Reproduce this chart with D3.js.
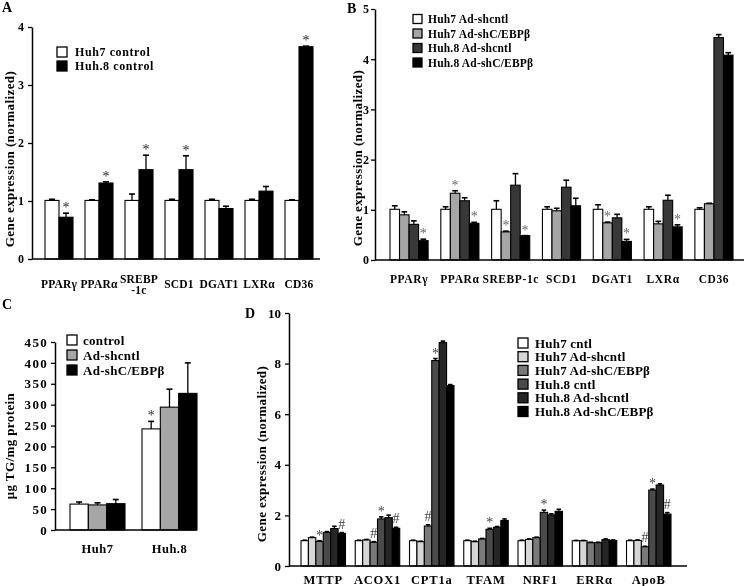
<!DOCTYPE html>
<html><head><meta charset="utf-8">
<script src="https://cdn.jsdelivr.net/npm/d3@7"></script>
<style>
body{margin:0;background:#fff}
svg{display:block;filter:grayscale(100%)}
text{font-family:"Liberation Serif","Times New Roman",serif;font-weight:bold;fill:#000}
</style>
</head><body>
<svg id="fig" width="745" height="586"></svg>
<script>
// ---------- Panel A ----------
const genesA = ["PPARγ","PPARα","SREBP-1c","SCD1","DGAT1","LXRα","CD36"];
const seriesA = ["Huh7 control","Huh.8 control"];
const huh7ControlA = [1.01,1.01,1.01,1.01,1.01,1.01,1.01];
const huh8ControlA = [0.72,1.31,1.54,1.54,0.87,1.17,3.66];
const huh7ControlErrA = [0.02,0.01,0.11,0.02,0.02,0.02,0.01];
const huh8ControlErrA = [0.07,0.02,0.25,0.24,0.04,0.08,0.01];
const marksA = [[1,0,"*"],[1,1,"*"],[1,2,"*"],[1,3,"*"],[1,6,"*"]];
const yTicksA = [0,1,2,3,4];

// ---------- Panel B ----------
const genesB = ["PPARγ","PPARα","SREBP-1c","SCD1","DGAT1","LXRα","CD36"];
const seriesB = ["Huh7 Ad-shcntl","Huh7 Ad-shC/EBPβ","Huh.8 Ad-shcntl","Huh.8 Ad-shC/EBPβ"];
const huh7ShcntlB = [1.01,1.01,1.01,1.01,1.01,1.01,1.01];
const huh7ShCebpB = [0.90,1.33,0.56,0.98,0.74,0.72,1.12];
const huh8ShcntlB = [0.71,1.18,1.49,1.45,0.84,1.19,4.43];
const huh8ShCebpB = [0.385,0.73,0.485,1.08,0.37,0.66,4.08];
const huh7ShcntlErrB = [0.07,0.05,0.17,0.05,0.09,0.05,0.03];
const huh7ShCebpErrB = [0.06,0.05,0.015,0.05,0.015,0.05,0.01];
const huh8ShcntlErrB = [0.07,0.06,0.23,0.14,0.07,0.10,0.06];
const huh8ShCebpErrB = [0.03,0.02,0.0,0.15,0.04,0.04,0.05];
const marksB = [[3,0,"*"],[1,1,"*"],[3,1,"*"],[1,2,"*"],[3,2,"*"],[1,4,"*"],[3,4,"*"],[3,5,"*"]];
const yTicksB = [0,1,2,3,4,5];

// ---------- Panel C ----------
const cellsC = ["Huh7","Huh.8"];
const seriesC = ["control","Ad-shcntl","Ad-shC/EBPβ"];
const controlC = [62,242];
const shcntlC = [60,294];
const shCebpC = [63,327];
const controlErrC = [5,18];
const shcntlErrC = [5,43];
const shCebpErrC = [10,73];
const marksC = [[0,1,"*"]];
const yTicksC = [0,50,100,150,200,250,300,350,400,450];

// ---------- Panel D ----------
const genesD = ["MTTP","ACOX1","CPT1a","TFAM","NRF1","ERRα","ApoB"];
const seriesD = ["Huh7 cntl","Huh7 Ad-shcntl","Huh7 Ad-shC/EBPβ","Huh.8 cntl","Huh.8 Ad-shcntl","Huh.8 Ad-shC/EBPβ"];
const huh7CntlD = [1.0,1.0,1.0,1.0,1.0,1.0,1.0];
const huh7ShcntlD = [1.12,1.03,0.96,0.96,1.05,1.0,1.01];
const huh7ShCebpD = [0.97,0.94,1.58,1.07,1.12,0.92,0.76];
const huh8CntlD = [1.33,1.86,8.12,1.45,2.12,0.92,3.0];
const huh8ShcntlD = [1.48,1.91,8.83,1.53,2.02,1.04,3.2];
const huh8ShCebpD = [1.29,1.49,7.13,1.8,2.16,1.01,2.05];
const huh7CntlErrD = [0.02,0.02,0.02,0.02,0.02,0.01,0.02];
const huh7ShcntlErrD = [0.02,0.02,0.02,0.02,0.02,0.01,0.02];
const huh7ShCebpErrD = [0.03,0.02,0.05,0.02,0.02,0.02,0.02];
const huh8CntlErrD = [0.03,0.08,0.08,0.04,0.09,0.02,0.04];
const huh8ShcntlErrD = [0.09,0.10,0.06,0.03,0.04,0.03,0.05];
const huh8ShCebpErrD = [0.03,0.04,0.04,0.06,0.08,0.02,0.06];
const marksD = [[2,0,"*"],[5,0,"#"],[2,1,"#"],[3,1,"*"],[5,1,"#"],[2,2,"#"],[3,2,"*"],[3,3,"*"],[3,4,"*"],[2,6,"#"],[3,6,"*"],[5,6,"#"]];
const yTicksD = [0,2,4,6,8,10];

const svg = d3.select("#fig");

function panel(o){
  const g = svg.append("g");
  const x = d3.scaleBand().domain(o.cats).range(o.xRange).paddingInner(o.pin).paddingOuter(o.pout);
  const xs = d3.scaleBand().domain(d3.range(o.values.length)).range([0, x.bandwidth()]);
  const y = d3.scaleLinear().domain(o.yDomain).range(o.yRange);
  const bw = xs.bandwidth();
  const capW = Math.min(bw*0.6, 6);
  o.values.forEach((vals, si) => {
    const gs = g.append("g");
    gs.selectAll("rect").data(vals).join("rect")
      .attr("x", (d,i) => x(o.cats[i]) + xs(si))
      .attr("y", d => y(d))
      .attr("width", bw)
      .attr("height", d => y(0) - y(d))
      .attr("fill", o.colors[si])
      .attr("stroke", "#000").attr("stroke-width", 1.1);
    const errs = o.errors[si];
    gs.selectAll("line.e").data(vals).join("line").attr("class","e")
      .attr("x1", (d,i) => x(o.cats[i]) + xs(si) + bw/2)
      .attr("x2", (d,i) => x(o.cats[i]) + xs(si) + bw/2)
      .attr("y1", d => y(d))
      .attr("y2", (d,i) => y(d + errs[i]))
      .attr("stroke", "#000").attr("stroke-width", 1.3);
    gs.selectAll("line.c").data(vals).join("line").attr("class","c")
      .attr("x1", (d,i) => x(o.cats[i]) + xs(si) + bw/2 - capW/2)
      .attr("x2", (d,i) => x(o.cats[i]) + xs(si) + bw/2 + capW/2)
      .attr("y1", (d,i) => y(d + errs[i]))
      .attr("y2", (d,i) => y(d + errs[i]))
      .attr("stroke", "#000").attr("stroke-width", 1.6);
  });
  // significance marks
  g.append("g")
    .selectAll("text.m").data(o.marks).join("text").attr("class","m")
    .attr("x", m => x(o.cats[m[1]]) + xs(m[0]) + bw/2)
    .attr("y", m => y(o.values[m[0]][m[1]] + o.errors[m[0]][m[1]]) - (m[2]==="#" ? 4 : 1))
    .attr("text-anchor","middle")
    .style("font-weight","normal")
    .style("font-size", o.markSize + "px")
    .style("fill", o.markColor)
    .text(m => m[2]);
  // y axis
  const ax = g.append("g").attr("transform", `translate(${o.axisX},0)`)
    .call(d3.axisLeft(y).tickValues(o.ticks).tickSize(4).tickSizeOuter(0).tickPadding(o.tickPad || 4).tickFormat(d3.format("d")));
  ax.select(".domain").attr("stroke-width", 1.5);
  ax.selectAll(".tick line").attr("stroke-width", 1.3);
  ax.selectAll("text").attr("font-family", null).attr("font-size", null)
    .style("font-size", o.tickSize + "px").style("letter-spacing", (o.tickLS||0) + "px");
  // x axis line
  g.append("line").attr("x1", o.axisX).attr("x2", o.xEnd).attr("y1", y(0)).attr("y2", y(0))
    .attr("stroke","#000").attr("stroke-width", 1.5);
  // category labels
  o.cats.forEach((c,i) => {
    const lines = (o.wrap && o.wrap[c]) ? o.wrap[c] : [c];
    const t = g.append("text").attr("text-anchor","middle")
      .attr("x", x(c) + x.bandwidth()/2 + (o.labelDx||0))
      .style("font-size", o.labelSize + "px")
      .style("letter-spacing", (o.labelLS||0) + "px");
    if (lines.length === 1) {
      t.attr("y", o.labelY).text(c);
    } else {
      lines.forEach((l,k) => t.append("tspan").attr("x", x(c) + x.bandwidth()/2 + (o.labelDx||0))
        .attr("y", o.labelY - 5 + k*11).text(l));
    }
  });
  // y title
  g.append("text").attr("text-anchor","middle")
    .attr("transform", `translate(${o.titleX},${o.titleY}) rotate(-90)`)
    .style("font-size", o.titleSize + "px").style("letter-spacing", (o.titleLS||0) + "px").text(o.title);
  // panel letter
  g.append("text").attr("x", o.letterX).attr("y", o.letterY).style("font-size","14px").text(o.letter);
  // legend
  const lg = g.append("g");
  o.series.forEach((s,i) => {
    const cy = o.legY + i*o.legDy;
    lg.append("rect").attr("x", o.legX).attr("y", cy - o.legBox/2).attr("width", o.legBox).attr("height", o.legBox)
      .attr("fill", o.colors[i]).attr("stroke","#000").attr("stroke-width",1.3);
    lg.append("text").attr("x", o.legTextX).attr("y", cy + o.legFont*0.35)
      .style("font-size", o.legFont + "px").style("letter-spacing", (o.legLS||0) + "px").text(s);
  });
}

panel({
  cats: genesA, series: seriesA, values: [huh7ControlA, huh8ControlA], errors: [huh7ControlErrA, huh8ControlErrA],
  marks: marksA, colors: ["#ffffff","#000000"],
  xRange: [39,319], pin: 0.3, pout: 0.15, yDomain: [0,4], yRange: [259,27], ticks: yTicksA,
  axisX: 32, xEnd: 320, tickSize: 12, labelSize: 11.5, labelLS: 0.2, labelY: 288,
  wrap: {"SREBP-1c": ["SREBP","-1c"]},
  title: "Gene expression (normalized)", titleX: 14, titleY: 159, titleSize: 13, titleLS: 0.4,
  letter: "A", letterX: 2, letterY: 12,
  legX: 57, legY: 52, legDy: 14, legBox: 10, legTextX: 75, legFont: 12, legLS: 0.6,
  markSize: 14, markColor: "#222"
});

panel({
  cats: genesB, series: seriesB, values: [huh7ShcntlB, huh7ShCebpB, huh8ShcntlB, huh8ShCebpB],
  errors: [huh7ShcntlErrB, huh7ShCebpErrB, huh8ShcntlErrB, huh8ShCebpErrB],
  marks: marksB, colors: ["#ffffff","#a6a6a6","#383838","#000000"],
  xRange: [384,739], pin: 0.25, pout: 0.118, yDomain: [0,5], yRange: [260,9], ticks: yTicksB,
  axisX: 375, xEnd: 744, tickSize: 12, tickPad: 2, labelSize: 11.5, labelLS: 0.6, labelY: 283,
  title: "Gene expression (normalized)", titleX: 362, titleY: 158, titleSize: 13, titleLS: 0.4,
  letter: "B", letterX: 347, letterY: 13,
  legX: 413, legY: 19, legDy: 14.5, legBox: 9, legTextX: 428, legFont: 11.5, legLS: 0.2,
  markSize: 14, markColor: "#666"
});

panel({
  cats: cellsC, series: seriesC, values: [controlC, shcntlC, shCebpC], errors: [controlErrC, shcntlErrC, shCebpErrC],
  marks: marksC, colors: ["#ffffff","#a6a6a6","#000000"],
  xRange: [70,197], pin: 0.236, pout: 0, yDomain: [0,450], yRange: [530,342], ticks: yTicksC,
  axisX: 55, xEnd: 197, tickSize: 13, tickLS: 1.3, tickPad: 3, labelSize: 12.5, labelLS: 0.5, labelY: 553,
  title: "μg TG/mg protein", titleX: 14, titleY: 446, titleSize: 13, titleLS: 0.4,
  letter: "C", letterX: 2, letterY: 309,
  legX: 67, legY: 340, legDy: 15, legBox: 10, legTextX: 83, legFont: 13, legLS: 0.3,
  markSize: 14, markColor: "#333"
});

panel({
  cats: genesD, series: seriesD, values: [huh7CntlD, huh7ShcntlD, huh7ShCebpD, huh8CntlD, huh8ShcntlD, huh8ShCebpD],
  errors: [huh7CntlErrD, huh7ShcntlErrD, huh7ShCebpErrD, huh8CntlErrD, huh8ShcntlErrD, huh8ShCebpErrD],
  marks: marksD, colors: ["#ffffff","#d6d6d6","#7a7a7a","#4a4a4a","#262626","#000000"],
  xRange: [301,671], pin: 0.18, pout: 0, yDomain: [0,10], yRange: [566,313], ticks: yTicksD,
  axisX: 289, xEnd: 687, tickSize: 13, tickPad: 4, labelSize: 12.5, labelLS: 0.8, labelY: 584,
  title: "Gene expression (normalized)", titleX: 266, titleY: 454, titleSize: 13, titleLS: 0.4,
  letter: "D", letterX: 245, letterY: 318,
  legX: 518, legY: 343, legDy: 13.7, legBox: 10, legTextX: 535, legFont: 13, legLS: 0.2,
  markSize: 14, markColor: "#444"
});
</script>
</body></html>
